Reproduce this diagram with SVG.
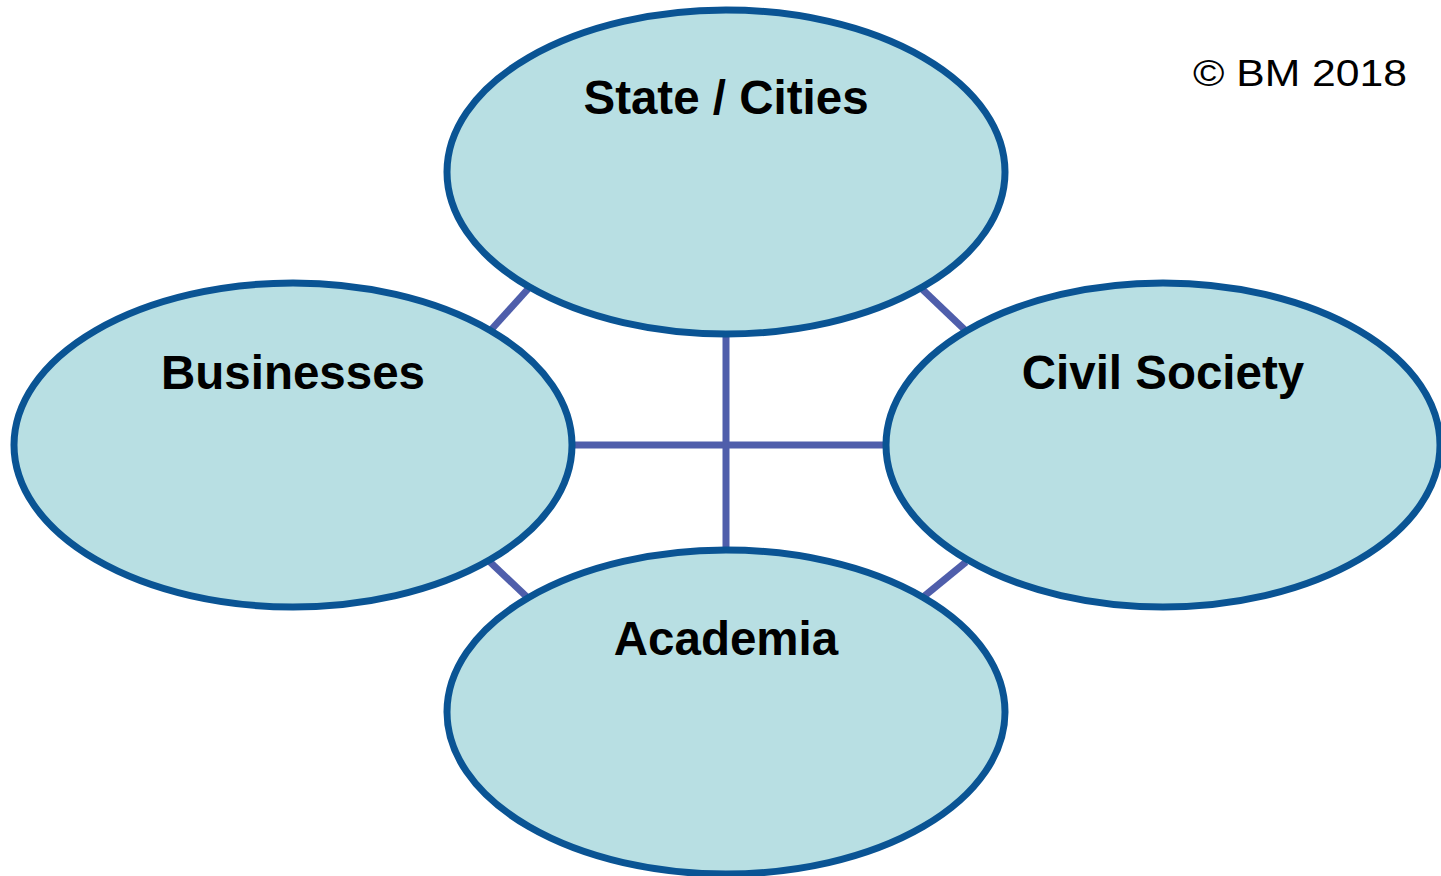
<svg xmlns="http://www.w3.org/2000/svg" width="1441" height="876" viewBox="0 0 1441 876">
<style>
.node ellipse { fill: #b8dfe3; stroke: #0a5494; stroke-width: 7; }
.node text { font-family: "Liberation Sans", Arial, sans-serif; font-weight: bold; font-size: 47.5px; fill: #000; text-anchor: middle; }
#connectors line { stroke: #4f5eab; stroke-width: 7; }
.copy { font-family: "Liberation Sans", Arial, sans-serif; font-size: 36px; fill: #000; }
</style>
<rect width="1441" height="876" fill="#fff"/>
<g id="connectors">
<line x1="726" y1="334" x2="726" y2="550"/>
<line x1="572" y1="445" x2="885" y2="445"/>
<line x1="490" y1="331" x2="528" y2="289"/>
<line x1="922" y1="289" x2="966" y2="331"/>
<line x1="490" y1="562" x2="528" y2="598"/>
<line x1="922" y1="598" x2="966" y2="562"/>
</g>
<g id="state" class="node">
<ellipse cx="726" cy="172" rx="279" ry="162"/>
<text x="726" y="114">State / Cities</text>
</g>
<g id="businesses" class="node">
<ellipse cx="293" cy="445" rx="279" ry="162"/>
<text x="293" y="389">Businesses</text>
</g>
<g id="civil" class="node">
<ellipse cx="1163" cy="445" rx="277" ry="162"/>
<text x="1163" y="389">Civil Society</text>
</g>
<g id="academia" class="node">
<ellipse cx="726" cy="712" rx="279" ry="162"/>
<text x="726" y="655">Academia</text>
</g>
<text class="copy" x="1193" y="86" textLength="214" lengthAdjust="spacingAndGlyphs">© BM 2018</text>
</svg>
